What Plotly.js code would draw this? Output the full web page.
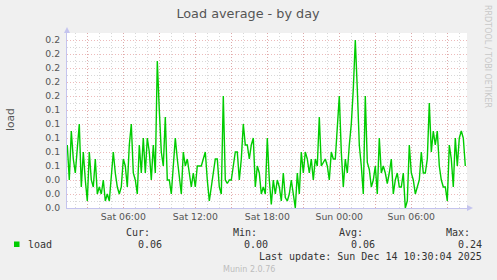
<!DOCTYPE html>
<html>
<head>
<meta charset="utf-8">
<script src="https://cdn.plot.ly/plotly-3.0.1.min.js"></script>
<style>html,body{margin:0;padding:0;background:#F0F0F0;}#chart{width:497px;height:280px;}</style>
</head>
<body>
<div id="chart"></div>
<script>
// ---- data ----
const seriesName = 'load';
const sampleStart = '2025-12-13T01:20:00';   // first sample time
const sampleStepMinutes = 10;                  // spacing between samples
const loadValues = [
  0.09,0.04,0.11,0.07,0.05,0.085,0.12,0.03,0.08,0.04,
  0.01,0.08,0.04,0.03,0.07,0.02,0.03,0.02,0.04,0.01,
  0.02,0.01,0.04,0.08,0.05,0.03,0.02,0.03,0.07,0.06,
  0.03,0.09,0.12,0.05,0.04,0.02,0.09,0.05,0.10,0.05,
  0.10,0.08,0.04,0.09,0.05,0.21,0.14,0.08,0.06,0.13,
  0.04,0.04,0.02,0.06,0.10,0.07,0.04,0.02,0.08,0.06,
  0.07,0.05,0.03,0.05,0.03,0.06,0.06,0.06,0.07,0.08,
  0.04,0.01,0.03,0.05,0.07,0.07,0.03,0.02,0.16,0.04,
  0.035,0.04,0.04,0.06,0.08,0.08,0.04,0.07,0.12,0.09,
  0.09,0.07,0.09,0.10,0.03,0.06,0.05,0.02,0.03,0.02,
  0.10,0.04,0.005,0.04,0.02,0.04,0.03,0.01,0.05,0.015,
  0.01,0.02,0.04,0.02,0.0,0.05,0.02,0.08,0.05,0.08,
  0.07,0.05,0.07,0.04,0.07,0.06,0.13,0.06,0.065,0.07,
  0.06,0.04,0.08,0.07,0.07,0.11,0.16,0.08,0.03,0.07,
  0.05,0.09,0.12,0.17,0.24,0.17,0.09,0.06,0.02,0.16,
  0.065,0.055,0.03,0.04,0.06,0.02,0.10,0.05,0.06,0.05,
  0.035,0.05,0.07,0.02,0.04,0.05,0.03,0.03,0.05,0.0,
  0.01,0.09,0.05,0.04,0.02,0.03,0.04,0.08,0.05,0.05,
  0.07,0.15,0.08,0.11,0.09,0.11,0.06,0.04,0.03,0.03,
  0.01,0.09,0.07,0.03,0.10,0.06,0.10,0.11,0.10,0.06
];
const viewRange = ['2025-12-13 01:18:30', '2025-12-14 10:38:30'];
const xTickVals = ['2025-12-13 03:00','2025-12-13 06:00','2025-12-13 09:00','2025-12-13 12:00',
  '2025-12-13 15:00','2025-12-13 18:00','2025-12-13 21:00','2025-12-14 00:00',
  '2025-12-14 03:00','2025-12-14 06:00','2025-12-14 09:00'];
const xTickText = ['','Sat 06:00','','Sat 12:00','','Sat 18:00','','Sun 00:00','','Sun 06:00',''];
const legendHeaders = ['Cur:','Min:','Avg:','Max:'];
const legendValues = ['0.06','0.00','0.06','0.24'];
const titleText = 'Load average - by day';
const yTitle = 'load';
const lastUpdate = 'Last update: Sun Dec 14 10:30:04 2025';
const footer = 'Munin 2.0.76';
const sideText = 'RRDTOOL / TOBI OETIKER';

// ---- build ----
const t0 = Date.parse(sampleStart + 'Z');
const xTimes = loadValues.map((_, i) => {
  const d = new Date(t0 + i * sampleStepMinutes * 60000);
  return d.toISOString().slice(0,19).replace('T',' ');
});

const W = 497, H = 280, ML = 67, MR = 30, MT = 33, MB = 72;
const PW = W - ML - MR, PH = H - MT - MB;
const px = x => (x - ML) / PW;
const py = y => (H - MB - y) / PH;

const RED = 'rgba(225,140,140,0.6)';
const GRAY = 'rgba(200,200,200,0.7)';
const AXIS = '#c4c4ee';
const DASH = '1px,2px';
const mono = 'DejaVu Sans Mono';
const sans = 'DejaVu Sans';

const annotations = [];
function ann(text, x, y, opts) {
  annotations.push(Object.assign({
    text, xref:'paper', yref:'paper', x: px(x), y: py(y), showarrow:false,
    xanchor:'left', yanchor:'middle', borderpad:0,
    font:{family:mono, size:10, color:'#333'}
  }, opts || {}));
}
ann(yTitle, 10, 120, {xanchor:'center', textangle:-90, font:{family:sans, size:10.7, color:'#555'}});
ann(sideText, 487.5, 56.5, {xanchor:'center', textangle:90, font:{family:sans, size:8, color:'#c8c8c8'}});
const headerRight = [151, 258, 363.5, 470.5];
const valueRight = [162.7, 269, 375.7, 482.7];
legendHeaders.forEach((h,i)=>ann(h, headerRight[i], 232.5, {xanchor:'right'}));
legendValues.forEach((v,i)=>ann(v, valueRight[i], 244.5, {xanchor:'right'}));
ann(seriesName, 26.5, 244.5);
ann(lastUpdate, 482.7, 256.5, {xanchor:'right'});
ann(footer, 248.7, 269.5, {xanchor:'center', font:{family:sans, size:8, color:'#bdbdbd'}});

const shapes = [
  {type:'rect', xref:'paper', yref:'paper', x0:px(14), x1:px(19.5), y0:py(247), y1:py(241.5),
   fillcolor:'#00CC00', line:{width:0}},
  // axis arrows
  {type:'path', xref:'paper', yref:'paper', xsizemode:'pixel', ysizemode:'pixel',
   xanchor:0, yanchor:1, path:'M -3,0 L 3,0 L 0,6 Z', fillcolor:AXIS, line:{width:0}},
  {type:'path', xref:'paper', yref:'paper', xsizemode:'pixel', ysizemode:'pixel',
   xanchor:1, yanchor:0, path:'M 0,-3 L 0,3 L 6,0 Z', fillcolor:AXIS, line:{width:0}}
];

const trace = {
  type:'scatter', mode:'lines', name:seriesName, x:xTimes, y:loadValues,
  line:{color:'#00CC00', width:1.4}, hoverinfo:'skip'
};

const layout = {
  width:W, height:H, margin:{l:ML, r:MR, t:MT, b:MB, pad:0},
  paper_bgcolor:'#F0F0F0', plot_bgcolor:'#FFFFFF', showlegend:false,
  title:{text:titleText, xref:'container', yref:'container', x:248/W, y:1-14/H,
    xanchor:'center', yanchor:'middle', font:{family:sans, size:12.8, color:'#555'}},
  xaxis:{type:'date', range:viewRange, tickmode:'array', tickvals:xTickVals, ticktext:xTickText,
    showgrid:true, gridcolor:RED, griddash:DASH, gridwidth:1,
    minor:{tickmode:'linear', tick0:'2025-12-13 00:00', dtick:3600000, showgrid:true,
      gridcolor:GRAY, griddash:DASH, gridwidth:1},
    showline:true, linecolor:AXIS, linewidth:1, zeroline:false, ticks:'',
    tickfont:{family:sans, size:9.3, color:'#555'}, fixedrange:true},
  yaxis:{range:[0,0.25], tickmode:'linear', tick0:0, dtick:0.02, tickformat:'.1f',
    showgrid:true, gridcolor:RED, griddash:DASH, gridwidth:1,
    minor:{tickmode:'linear', tick0:0, dtick:0.01, showgrid:true, gridcolor:GRAY, griddash:DASH, gridwidth:1},
    showline:true, linecolor:AXIS, linewidth:1, zeroline:false, ticks:'',
    ticklabelstandoff:4,
    tickfont:{family:sans, size:9.3, color:'#555'}, fixedrange:true},
  annotations, shapes
};

Plotly.newPlot('chart', [trace], layout, {staticPlot:true, displayModeBar:false});
</script>
</body>
</html>
